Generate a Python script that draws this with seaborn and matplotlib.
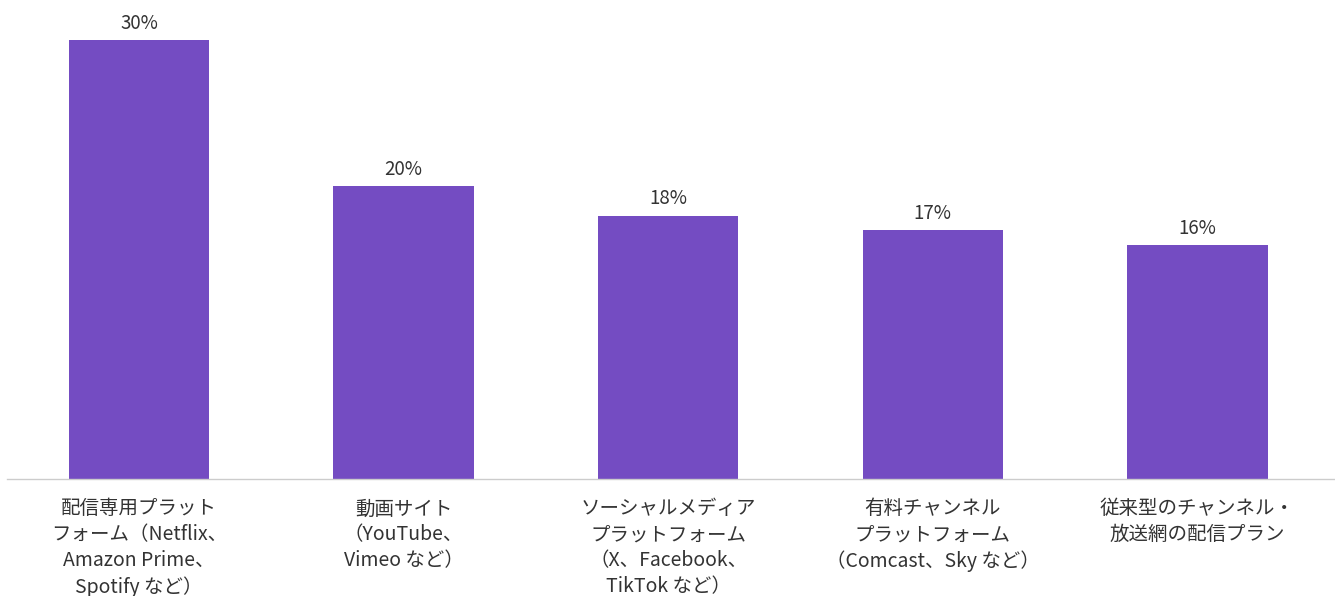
import matplotlib
matplotlib.use("Agg")
import matplotlib.pyplot as plt
import seaborn as sns
import pandas as pd

categories = [
    "配信専用プラット\nフォーム（Netflix、\nAmazon Prime、\nSpotify など）",
    "動画サイト\n（YouTube、\nVimeo など）",
    "ソーシャルメディア\nプラットフォーム\n（X、Facebook、\nTikTok など）",
    "有料チャンネル\nプラットフォーム\n（Comcast、Sky など）",
    "従来型のチャンネル・\n放送網の配信プラン",
]
values = [30, 20, 18, 17, 16]

sns.set_theme(style="white")
plt.rcParams['font.family'] = ['Noto Sans CJK JP', 'DejaVu Sans']

df = pd.DataFrame({"cat": categories, "val": values})

fig = plt.figure(figsize=(13.35, 5.96), dpi=100)
ax = fig.add_axes([0.005, 1 - 479 / 596, 0.995, 479 / 596])
sns.barplot(data=df, x="cat", y="val", color="#744CC2", saturation=1, width=0.53,
            linewidth=0, edgecolor="none", ax=ax)

ax.set_ylim(0, 32.74)
ax.set_xlim(-0.5, 4.52)
for c in ax.containers:
    ax.bar_label(c, labels=[f"{v}%" for v in values], padding=4.5, fontsize=13.5, color="#333333")

ax.set_xlabel("")
ax.set_ylabel("")
ax.set_yticks([])
ax.tick_params(axis="x", length=0, pad=14, labelsize=14, labelcolor="#333333")
for lbl in ax.get_xticklabels():
    lbl.set_linespacing(1.3)
for s in ["top", "right", "left"]:
    ax.spines[s].set_visible(False)
ax.spines["bottom"].set_color("#cccccc")
ax.spines["bottom"].set_linewidth(1)

fig.savefig("out.png", dpi=100)
